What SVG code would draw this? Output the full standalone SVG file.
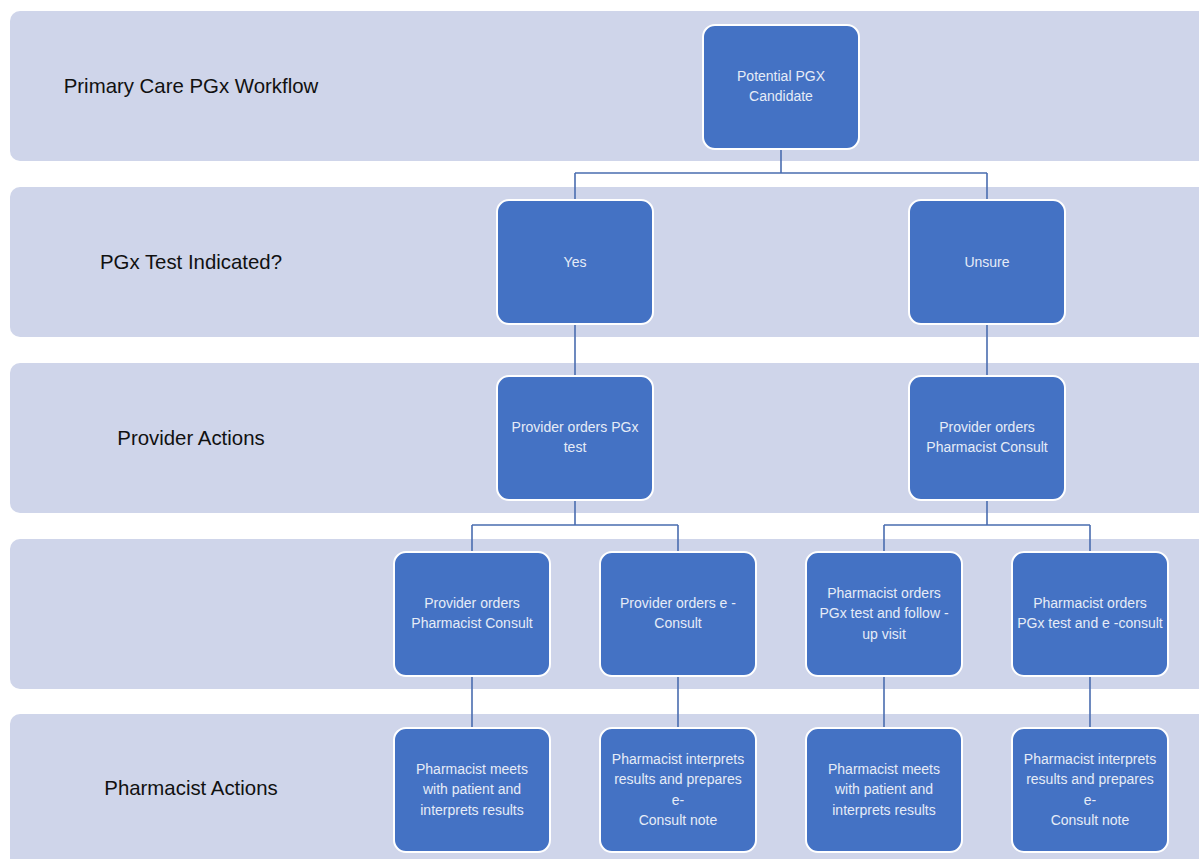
<svg xmlns="http://www.w3.org/2000/svg" width="1199" height="859" viewBox="0 0 1199 859">
<style>
.band{fill:#CFD5EA}
.lbl{font-family:"Liberation Sans",Arial,sans-serif;font-size:20.4px;fill:#111;text-anchor:middle;dominant-baseline:central}
.node rect{fill:#4472C4;stroke:#FFFFFF;stroke-width:2}
.node text{font-family:"Liberation Sans",Arial,sans-serif;font-size:14px;fill:#E6ECF7;text-anchor:middle;dominant-baseline:central}
.conn{fill:none;stroke:#4A6DB0;stroke-width:1.6}
</style>
<rect width="1199" height="859" fill="#FFFFFF"/>
<g id="bands">
<rect class="band" x="10" y="11" width="1205" height="150" rx="10"/>
<rect class="band" x="10" y="187" width="1205" height="150" rx="10"/>
<rect class="band" x="10" y="363" width="1205" height="150" rx="10"/>
<rect class="band" x="10" y="539" width="1205" height="150" rx="10"/>
<rect class="band" x="10" y="714" width="1205" height="160" rx="10"/>
<text class="lbl" x="191" y="86">Primary Care PGx Workflow</text>
<text class="lbl" x="191" y="262">PGx Test Indicated?</text>
<text class="lbl" x="191" y="438">Provider Actions</text>
<text class="lbl" x="191" y="788">Pharmacist Actions</text>
</g>
<g id="connectors">
<path class="conn" d="M781 149V173M575 173H987M575 173V200M987 173V200"/>
<path class="conn" d="M575 324V376M987 324V376"/>
<path class="conn" d="M575 500V525M472 525H678M472 525V552M678 525V552"/>
<path class="conn" d="M987 500V525M884 525H1090M884 525V552M1090 525V552"/>
<path class="conn" d="M472 676V728M678 676V728M884 676V728M1090 676V728"/>
</g>
<g id="n-candidate" class="node"><rect x="703" y="25" width="156" height="124" rx="12"/><text x="781" y="76">Potential PGX</text><text x="781" y="96">Candidate</text></g>
<g id="n-yes" class="node"><rect x="497" y="200" width="156" height="124" rx="12"/><text x="575" y="262">Yes</text></g>
<g id="n-unsure" class="node"><rect x="909" y="200" width="156" height="124" rx="12"/><text x="987" y="262">Unsure</text></g>
<g id="n-prov-test" class="node"><rect x="497" y="376" width="156" height="124" rx="12"/><text x="575" y="427">Provider orders PGx</text><text x="575" y="447">test</text></g>
<g id="n-prov-consult" class="node"><rect x="909" y="376" width="156" height="124" rx="12"/><text x="987" y="427">Provider orders</text><text x="987" y="447">Pharmacist Consult</text></g>
<g id="n-r4a" class="node"><rect x="394" y="552" width="156" height="124" rx="12"/><text x="472" y="603">Provider orders</text><text x="472" y="623">Pharmacist Consult</text></g>
<g id="n-r4b" class="node"><rect x="600" y="552" width="156" height="124" rx="12"/><text x="678" y="603">Provider orders e -</text><text x="678" y="623">Consult</text></g>
<g id="n-r4c" class="node"><rect x="806" y="552" width="156" height="124" rx="12"/><text x="884" y="593">Pharmacist orders</text><text x="884" y="613">PGx test and follow -</text><text x="884" y="634">up visit</text></g>
<g id="n-r4d" class="node"><rect x="1012" y="552" width="156" height="124" rx="12"/><text x="1090" y="603">Pharmacist orders</text><text x="1090" y="623">PGx test and e -consult</text></g>
<g id="n-r5a" class="node"><rect x="394" y="728" width="156" height="124" rx="12"/><text x="472" y="769">Pharmacist meets</text><text x="472" y="789">with patient and</text><text x="472" y="810">interprets results</text></g>
<g id="n-r5b" class="node"><rect x="600" y="728" width="156" height="124" rx="12"/><text x="678" y="759">Pharmacist interprets</text><text x="678" y="779">results and prepares</text><text x="678" y="800">e-</text><text x="678" y="820">Consult note</text></g>
<g id="n-r5c" class="node"><rect x="806" y="728" width="156" height="124" rx="12"/><text x="884" y="769">Pharmacist meets</text><text x="884" y="789">with patient and</text><text x="884" y="810">interprets results</text></g>
<g id="n-r5d" class="node"><rect x="1012" y="728" width="156" height="124" rx="12"/><text x="1090" y="759">Pharmacist interprets</text><text x="1090" y="779">results and prepares</text><text x="1090" y="800">e-</text><text x="1090" y="820">Consult note</text></g>
</svg>
